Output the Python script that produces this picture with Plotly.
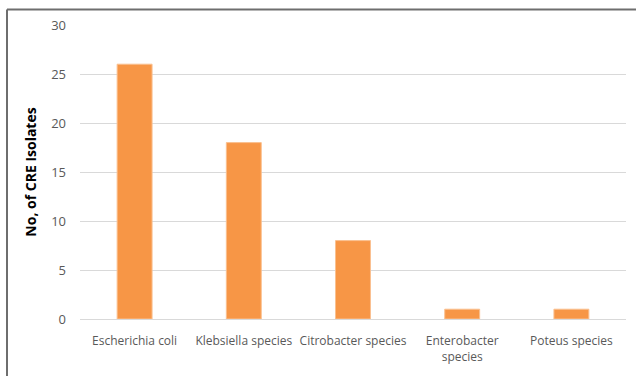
import plotly.graph_objects as go

# CRE isolates by organism
organisms = ["Escherichia coli", "Klebsiella species", "Citrobacter species",
             "Enterobacter<br>species", "Poteus species"]
isolates = [26, 18, 8, 1, 1]
y_ticks = [0, 5, 10, 15, 20, 25, 30]

W, H = 636, 376
ML, MR, MT, MB = 80, 10, 25, 57
pw, ph = W - ML - MR, H - MT - MB

fig = go.Figure(go.Bar(
    x=organisms,
    y=isolates,
    marker=dict(color="#F79646", line=dict(color="#FAC090", width=1)),
    width=0.32,
    hoverinfo="x+y",
))

font = "Open Sans, Noto Sans, sans-serif"

# Outer frame (left and top edges)
bx = (7 - ML) / pw
by = 1 + (MT - 9.5) / ph
frame = dict(color="#6e6e6e", width=2)
fig.add_shape(type="line", xref="paper", yref="paper", x0=bx, x1=bx, y0=-0.3, y1=by, line=frame)
fig.add_shape(type="line", xref="paper", yref="paper", x0=bx, x1=1.2, y0=by, y1=by, line=frame)

fig.update_layout(
    width=W, height=H,
    margin=dict(l=ML, r=MR, t=MT, b=MB),
    paper_bgcolor="white",
    plot_bgcolor="white",
    showlegend=False,
    font=dict(family=font, size=12, color="#595959"),
    xaxis=dict(
        showgrid=False,
        showline=True, linecolor="#d9d9d9", linewidth=1,
        ticks="", tickfont=dict(size=12, color="#595959"),
        ticklabelstandoff=11,
    ),
    yaxis=dict(
        range=[0, 30],
        tickvals=y_ticks,
        showgrid=True, gridcolor="#d9d9d9", gridwidth=1,
        zeroline=False, showline=False,
        ticks="", ticklabelstandoff=13,
        tickfont=dict(size=13, color="#595959"),
        title=dict(text="<b>No, of CRE Isolates</b>",
                   font=dict(size=14, color="black", family=font),
                   standoff=11),
    ),
)

fig.write_html("out.html")
